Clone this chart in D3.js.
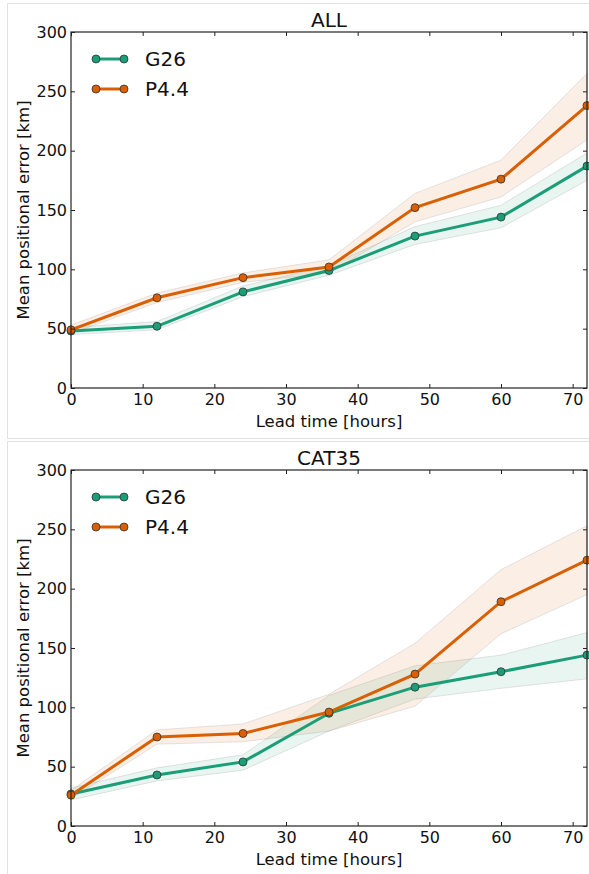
<!DOCTYPE html>
<html>
<head>
<meta charset="utf-8">
<script src="https://cdn.jsdelivr.net/npm/d3@7"></script>
<style>
  body { margin: 0; background: #fff; }
  svg text { font-family: "DejaVu Sans", sans-serif; fill: #111; }
  .axis path { display: none; }
  .axis line { stroke: #222; }
</style>
</head>
<body>
<svg width="589" height="874"></svg>
<script>
// lead times in hours
var leadTimes = [0, 12, 24, 36, 48, 60, 72];
var xTicks = [0, 10, 20, 30, 40, 50, 60, 70];
var yTicks = [0, 50, 100, 150, 200, 250, 300];
var seriesNames = ["G26", "P4.4"];
var seriesColors = ["#1b9e77", "#d95f02"];

// panel ALL
var allG26 = [48, 52, 81, 99, 128, 144, 187];
var allG26Lo = [45, 49, 77, 95, 121, 135, 175];
var allG26Hi = [51, 56, 86, 103, 136, 154, 198];
var allP44 = [49, 76, 93, 102, 152, 176, 238];
var allP44Lo = [46, 72, 89, 97, 140, 161, 209];
var allP44Hi = [53, 80, 97, 108, 164, 192, 265];

// panel CAT35
var catG26 = [27, 43, 54, 95, 117, 130, 144];
var catG26Lo = [22, 38, 47, 80, 107, 116, 124];
var catG26Hi = [32, 49, 60, 110, 135, 144, 163];
var catP44 = [26, 75, 78, 96, 128, 189, 224];
var catP44Lo = [23, 69, 71, 80, 101, 162, 195];
var catP44Hi = [30, 81, 86, 111, 154, 216, 253];

var panels = [
  { title: "ALL", top: 0, series: [[allG26, allG26Lo, allG26Hi], [allP44, allP44Lo, allP44Hi]] },
  { title: "CAT35", top: 438, series: [[catG26, catG26Lo, catG26Hi], [catP44, catP44Lo, catP44Hi]] }
];

var svg = d3.select("svg");

var x = d3.scaleLinear().domain([0, 72]).range([71, 587]);

panels.forEach(function(p, pi) {
  var g = svg.append("g").attr("transform", "translate(0," + p.top + ")");

  // light frame around each figure
  g.append("rect")
      .attr("x", 7.5).attr("y", 3.5)
      .attr("width", 590).attr("height", pi == 0 ? 435 : 440)
      .attr("fill", "none")
      .attr("stroke", "#e2e2e2");

  var y = d3.scaleLinear().domain([0, 300]).range([388, 32]);

  // error bands
  p.series.forEach(function(s, si) {
    var area = d3.area()
        .x(function(d, i) { return x(leadTimes[i]); })
        .y0(function(d, i) { return y(s[1][i]); })
        .y1(function(d, i) { return y(s[2][i]); });
    g.append("path")
        .datum(s[0])
        .attr("d", area)
        .attr("fill", seriesColors[si])
        .attr("fill-opacity", 0.1)
        .attr("stroke", "#999")
        .attr("stroke-opacity", 0.25)
        .attr("stroke-width", 1);
  });

  // lines and markers
  p.series.forEach(function(s, si) {
    var line = d3.line()
        .x(function(d, i) { return x(leadTimes[i]); })
        .y(function(d) { return y(d); });
    g.append("path")
        .datum(s[0])
        .attr("d", line)
        .attr("fill", "none")
        .attr("stroke", seriesColors[si])
        .attr("stroke-width", 3);
    g.selectAll(".dot" + si)
        .data(s[0])
        .enter().append("circle")
        .attr("cx", function(d, i) { return x(leadTimes[i]); })
        .attr("cy", function(d) { return y(d); })
        .attr("r", 4)
        .attr("fill", seriesColors[si])
        .attr("stroke", "#333")
        .attr("stroke-width", 0.8);
  });

  // axes, ticks inward on all four sides
  g.append("g").attr("class", "axis")
      .attr("transform", "translate(0,388)")
      .call(d3.axisBottom(x).tickValues(xTicks).tickSize(-4).tickPadding(6))
      .selectAll("text").style("font-size", "16px");
  g.append("g").attr("class", "axis")
      .attr("transform", "translate(0,32)")
      .call(d3.axisTop(x).tickValues(xTicks).tickSize(-4).tickFormat(""));
  g.append("g").attr("class", "axis")
      .attr("transform", "translate(71,0)")
      .call(d3.axisLeft(y).tickValues(yTicks).tickSize(-4).tickPadding(4))
      .selectAll("text").style("font-size", "16px");
  g.append("g").attr("class", "axis")
      .attr("transform", "translate(587,0)")
      .call(d3.axisRight(y).tickValues(yTicks).tickSize(-4).tickFormat(""));

  g.append("rect")
      .attr("x", 71).attr("y", 32)
      .attr("width", 516).attr("height", 356)
      .attr("fill", "none")
      .attr("stroke", "#222")
      .attr("stroke-width", 1.2);

  // titles and labels
  g.append("text")
      .attr("x", 329).attr("y", 27)
      .attr("text-anchor", "middle")
      .style("font-size", "20px")
      .text(p.title);
  g.append("text")
      .attr("x", 329).attr("y", 427)
      .attr("text-anchor", "middle")
      .style("font-size", "16.5px")
      .text("Lead time [hours]");
  g.append("text")
      .attr("transform", "translate(29,210) rotate(-90)")
      .attr("text-anchor", "middle")
      .style("font-size", "16.5px")
      .text("Mean positional error [km]");

  // legend
  seriesNames.forEach(function(name, si) {
    var ly = 59 + si * 30;
    g.append("line")
        .attr("x1", 96).attr("x2", 124)
        .attr("y1", ly).attr("y2", ly)
        .attr("stroke", seriesColors[si])
        .attr("stroke-width", 3);
    [96, 124].forEach(function(cx) {
      g.append("circle")
          .attr("cx", cx).attr("cy", ly).attr("r", 4)
          .attr("fill", seriesColors[si])
          .attr("stroke", "#333")
          .attr("stroke-width", 0.8);
    });
    g.append("text")
        .attr("x", 145).attr("y", ly)
        .attr("dy", "0.36em")
        .style("font-size", "20px")
        .text(name);
  });
});
</script>
</body>
</html>
